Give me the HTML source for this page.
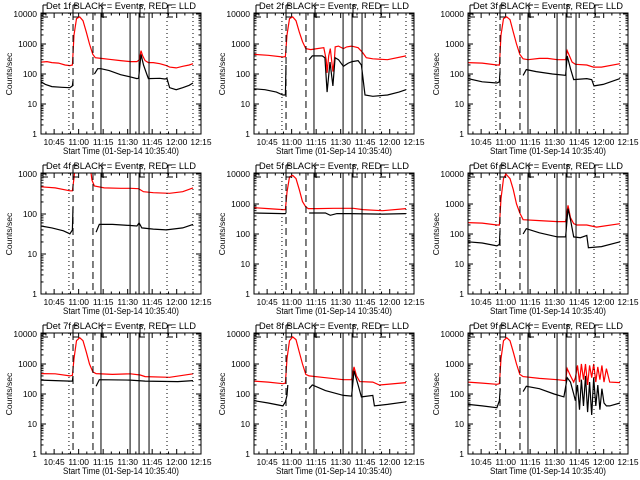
<!DOCTYPE html>
<html><head><meta charset="utf-8"><style>
html,body{margin:0;padding:0;background:#fff;}
svg{display:block;font-family:"Liberation Sans",sans-serif;}
</style></head><body>
<svg id="chart" width="640" height="480" viewBox="0 0 640 480" xmlns="http://www.w3.org/2000/svg">
<rect x="0" y="0" width="640" height="480" fill="#fff"/>
</svg>
<script>
// Time in minutes since 10:35:40
const xTickLabels = ["10:45","11:00","11:15","11:30","11:45","12:00","12:15"];
const xTickMinutes = [9.33,24.33,39.33,54.33,69.33,84.33,99.33];
const dottedLines = [18.4,78.4,94.3];
const dashedLines = [20.9,33.1];
const solidLines = [38,55.8,61.3,67.4];
const bracketMarks = [43,73,102,140,168];
const detNames = ["1f","2f","3f","4f","5f","6f","7f","8f","9f"];
const decades = [4,4,4,3,4,4,4,4,4];

const red1T=[1.3,5,8,12,16,19,20.5,21.5,23,25,27,29,31,33,34.5,38,43,50,56,60,61.5,62.5,63.5,65,67,70,74,78,80,84,88,92,94.3];
const red1V=[250,260,240,230,200,190,200,2000,7000,8000,6000,2500,1000,450,350,330,310,280,260,260,300,600,400,280,240,240,220,190,170,160,180,200,220];
const blk1T=[1.3,4,8,14,19,20.5,20.9,21,34,36,38,43,50,56,60,61,62.5,64,66,67,74,77,78.4,80,84,88,92,94.3];
const blk1V=[55,45,38,36,35,40,60,null,100,150,150,130,95,80,70,72,450,200,100,70,72,68,70,35,30,35,42,50];

const red2T=[1.3,10,19,20.5,21.5,23,25,27,29,31,33,36,40,44,45.5,46,47,48,49.6,50.5,51,53,56,58,61,65,68,70,74,83,94.3];
const red2V=[450,420,370,380,2000,7000,8000,6000,2500,1200,700,650,700,750,300,110,400,700,120,300,800,850,700,800,850,750,500,350,320,300,400];
const blk2T=[1.3,8,15,19,20.5,20.9,21,35,37,43,44.7,46,47.8,49.6,50.9,53,56,59,61.3,65,67,69.2,74,83,90,94.3];
const blk2V=[32,30,25,20,20,200,null,300,400,400,350,25,250,40,350,300,180,230,260,280,200,20,18,20,25,30];

const red3T=[1.3,10,19,20.5,21.5,23,25,27,29,31,33,35,38,45,50,56,61,62,63,65,67,74,78,83,94.3];
const red3V=[240,230,200,200,2000,7000,8000,6500,2500,1000,450,320,300,330,330,300,300,600,450,250,210,200,170,170,220];
const blk3T=[1.3,10,19,20.5,20.9,21,35,37,43,53,61,62,64,66,74,77,78.4,84,94.3];
const blk3V=[70,55,50,55,120,null,90,140,120,100,90,400,150,65,70,65,40,45,70];

const red4T=[1.3,10,19,20.5,21.5,22.5,31,32.5,34,40,50,56,61,64,70,80,88,94.3];
const red4V=[480,450,380,380,800,2000,2000,700,500,450,440,440,430,360,340,330,360,450];
const blk4T=[1.3,8,15,19,20.5,20.9,21,35,37,45,55,60,61.3,63,70,78,88,94.3];
const blk4V=[50,45,38,32,40,150,null,35,55,55,52,50,60,45,42,40,45,55];

const red5T=[1.3,10,19,20.5,21.5,23,25,27,29,31,33,34.5,40,50,62,68,80,94.3];
const red5V=[750,700,650,650,2500,8000,9000,7000,3000,1200,800,700,700,720,720,650,600,700];
const blk5T=[1.3,19,20.5,20.9,21,35,38,45,48,52,60,80,94.3];
const blk5V=[500,480,480,500,null,500,500,500,420,480,480,460,480];

const red6T=[1.3,10,19,20.5,21.5,23,24.5,27,29,31,33,35,45,56,61,62.5,64,66,68,74,80,94.3];
const red6V=[240,230,200,200,1500,7000,10000,7000,3000,1000,500,300,280,260,260,900,350,220,200,200,170,220];
const blk6T=[1.3,10,19,20.5,20.9,21,35,37,45,56,61,62.5,64,66,70,74,75,83,94.3];
const blk6V=[55,50,40,45,130,null,100,150,110,80,80,700,300,80,75,90,35,38,55];

const red7T=[1.3,10,19,20.5,21.5,23,25,27,29,31,33,35,45,56,62,65,80,94.3];
const red7V=[480,470,400,420,1500,6000,7500,6000,2500,1000,550,480,450,470,430,380,360,470];
const blk7T=[1.3,19,20.5,20.9,21,35,37,56,65,85,94.3];
const blk7V=[290,270,270,400,null,180,300,290,270,260,280];

const red8T=[1.3,10,19,20.5,21.5,23,25,27,29,31,33,35,45,56,61,62.5,64,66,74,78,94.3];
const red8V=[270,250,220,230,1500,6000,8000,6500,2500,1000,450,400,350,300,300,800,400,260,250,200,240];
const blk8T=[1.3,10,19,20.5,21.5,22,22.1,35,37,45,56,61,62.5,65,67,74,75,83,94.3];
const blk8V=[60,50,40,55,90,200,null,150,200,130,90,85,600,200,80,90,40,45,55];

const red9T=[1.3,10,19,20.5,21.5,23,25,27,29,31,33,35,45,56,61,62,64,66,67,68.3,69.5,70.7,72,73.2,74.5,75.7,77,78.2,79.5,80.7,82,83.2,84.5,86,88,94.3];
const red9V=[250,230,210,220,1500,6000,7500,6000,2500,1000,450,380,330,300,280,700,400,250,350,900,250,1000,300,1000,200,900,350,1000,250,800,300,900,250,700,250,240];
const blk9T=[1.3,10,19,20.5,21,21.1,35,37,45,54,60,62,64,66,67,68.3,69.5,70.7,72,73.2,74.5,75.7,77,78.2,79.5,80.7,82,83.2,84.5,86,88,94.3];
const blk9V=[45,40,35,60,150,null,120,180,150,100,80,350,250,100,60,200,30,300,40,400,25,250,20,350,40,200,30,150,50,40,40,50];

const redT=[red1T,red2T,red3T,red4T,red5T,red6T,red7T,red8T,red9T];
const redV=[red1V,red2V,red3V,red4V,red5V,red6V,red7V,red8V,red9V];
const blkT=[blk1T,blk2T,blk3T,blk4T,blk5T,blk6T,blk7T,blk8T,blk9T];
const blkV=[blk1V,blk2V,blk3V,blk4V,blk5V,blk6V,blk7V,blk8V,blk9V];

const NS="http://www.w3.org/2000/svg";
const svg=document.getElementById('chart');
function mk(tag,attrs,parent){const e=document.createElementNS(NS,tag);for(const k in attrs)e.setAttribute(k,attrs[k]);(parent||svg).appendChild(e);return e;}
const L=41,R=201,TOP=13,BOT=134,T0=1.3,T1=99.2;
function xs(m){return L+(m-T0)*(R-L)/(T1-T0);}

for(let p=0;p<9;p++){
  const col=p%3,row=Math.floor(p/3);
  const ox=Math.round(col*213.33),oy=row*160;
  const dec=decades[p];
  const pxDec=(BOT-14)/dec;
  const ys=v=>BOT-pxDec*Math.log10(v);
  const g=mk('g',{transform:`translate(${ox},${oy})`});
  
  
  const cid='clip'+p;
  const cp=mk('clipPath',{id:cid},g);
  mk('rect',{x:L,y:TOP,width:R-L,height:BOT-TOP},cp);
  // title
  const t=mk('text',{x:121,y:9,'font-size':9.5,'text-anchor':'middle',textLength:150,lengthAdjust:'spacingAndGlyphs'},g);
  t.textContent='Det '+detNames[p]+' BLACK = Events, RED = LLD';
  
  
  // y title
  const yt=mk('text',{x:0,y:0,'font-size':8.5,'text-anchor':'middle',transform:'translate(12,74) rotate(-90)'},g);
  yt.textContent='Counts/sec';
  
  
  // x title
  const xt=mk('text',{x:121,y:154,'font-size':9,'text-anchor':'middle',textLength:116,lengthAdjust:'spacingAndGlyphs'},g);
  xt.textContent='Start Time (01-Sep-14 10:35:40)';
  
  
  // y ticks
  for(let d=0;d<=dec;d++){
    const y=ys(Math.pow(10,d));
    mk('line',{x1:L,x2:L+5,y1:y,y2:y,stroke:'#000','stroke-width':1},g);
    mk('line',{x1:R-5,x2:R,y1:y,y2:y,stroke:'#000','stroke-width':1},g);
    const lb=mk('text',{x:37,y:y+3,'font-size':8.5,'text-anchor':'end'},g);
    lb.textContent=String(Math.pow(10,d));
    
    
    if(d<dec){for(let k=2;k<=9;k++){const yy=ys(k*Math.pow(10,d));
      mk('line',{x1:L,x2:L+2.5,y1:yy,y2:yy,stroke:'#000','stroke-width':1},g);
      mk('line',{x1:R-2.5,x2:R,y1:yy,y2:yy,stroke:'#000','stroke-width':1},g);}}
  }
  // x ticks
  for(let m=4.33;m<T1;m+=5){const x=xs(m);const major=Math.abs(((m-9.33)/15)-Math.round((m-9.33)/15))<0.01;const len=major?5:2.5;
    mk('line',{x1:x,x2:x,y1:BOT,y2:BOT-len,stroke:'#000','stroke-width':1},g);
    mk('line',{x1:x,x2:x,y1:TOP,y2:TOP+len,stroke:'#000','stroke-width':1},g);}
  xTickLabels.forEach((s,i)=>{const lb=mk('text',{x:Math.min(xs(xTickMinutes[i]),201),y:145,'font-size':8.5,'text-anchor':'middle'},g);
    lb.textContent=s;
    
    });
  // data
  function path(T,V){let d='',pen=false;for(let i=0;i<T.length;i++){if(V[i]===null){pen=false;continue;}
    d+=(pen?'L':'M')+xs(T[i]).toFixed(1)+','+ys(V[i]).toFixed(1);pen=true;}return d;}
  const dg=mk('g',{'clip-path':`url(#${cid})`},g);
  const rp=mk('path',{d:path(redT[p],redV[p]),fill:'none',stroke:'#ff0000','stroke-width':1.2},dg);
  
  
  const bp=mk('path',{d:path(blkT[p],blkV[p]),fill:'none',stroke:'#000','stroke-width':1.2},dg);
  
  
  // vertical markers
  dottedLines.forEach(m=>{const l=mk('line',{x1:xs(m),x2:xs(m),y1:TOP,y2:BOT,stroke:'#000','stroke-width':1,'stroke-dasharray':'1,3'},g);
    
    });
  dashedLines.forEach(m=>{const l=mk('line',{x1:xs(m),x2:xs(m),y1:TOP,y2:BOT,stroke:'#000','stroke-width':1,'stroke-dasharray':'7,4'},g);
    
    });
  solidLines.forEach(m=>{const l=mk('line',{x1:xs(m),x2:xs(m),y1:TOP,y2:BOT,stroke:'#000','stroke-width':1},g);
    
    });
  bracketMarks.forEach(x=>{const b=mk('path',{d:`M${x},5V17H${x+5}M${x},5H${x+4}`,fill:'none',stroke:'#000','stroke-width':1},g);
    
    });
  // box
  const bx=mk('rect',{x:L,y:TOP,width:R-L,height:BOT-TOP,fill:'none',stroke:'#000','stroke-width':1},g);
  
  
}
</script>
</body></html>
